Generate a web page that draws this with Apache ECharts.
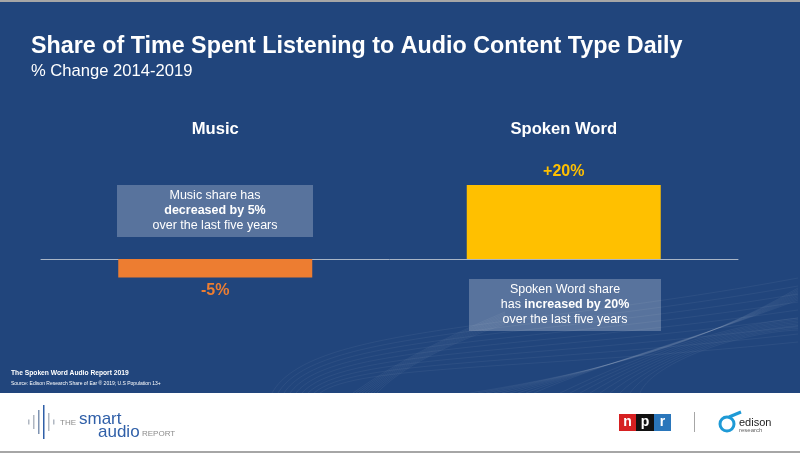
<!DOCTYPE html>
<html>
<head>
<meta charset="utf-8">
<title>Share of Time Spent Listening</title>
<style>
	html,body{margin:0;padding:0;background:#fff;}
	#main{width:800px;height:453px;}
</style>
<script src="https://cdn.jsdelivr.net/npm/echarts@6/dist/echarts.min.js"></script>
</head>
<body>
<div id="main"></div>
<script>
var categories = ['Music', 'Spoken Word'];
var values = [-5, 20];
var valueLabels = ['-5%', '+20%'];
var barColors = ['#ED7D31', '#FFC000'];
var waveBars = [5, 14, 24, 34, 18, 5];

var fontName = '"Liberation Sans", Arial, sans-serif';
var noteStyle = {
	n: {fontFamily: fontName, fontSize: 12.5, fill: '#fff', lineHeight: 15},
	b: {fontFamily: fontName, fontSize: 12.5, fontWeight: 'bold', fill: '#fff', lineHeight: 15}
};

//说明框
function noteBox(x, y, w, h, text){
	return [{
		type: 'rect', z: 3,
		shape: {x: x, y: y, width: w, height: h},
		style: {fill: 'rgba(255,255,255,0.25)'}
	},{
		type: 'text', z: 4, x: x + w / 2, y: y + h / 2,
		style: {text: text, rich: noteStyle, fill: '#fff', align: 'center', verticalAlign: 'middle'}
	}];
}

function label(text, x, y, size, color, weight, align){
	return {
		type: 'text', z: 6, x: x, y: y,
		style: {
			text: text, fontFamily: fontName, fontSize: size, fontWeight: weight || 'normal',
			fill: color, align: align || 'left', verticalAlign: 'middle'
		}
	};
}

function box(x, y, w, h, color, z){
	return {type: 'rect', z: z || 5, shape: {x: x, y: y, width: w, height: h}, style: {fill: color}};
}

function curve(x1, y1, cx1, cy1, cx2, cy2, x2, y2, alpha){
	return {
		type: 'bezierCurve', z: 1,
		shape: {x1: x1, y1: y1, cpx1: cx1, cpy1: cy1, cpx2: cx2, cpy2: cy2, x2: x2, y2: y2},
		style: {stroke: 'rgba(255,255,255,' + alpha + ')', fill: 'none', lineWidth: 1}
	};
}

//背景装饰线
function decoration(){
	var list = [], i;
	for(i = 0; i < 9; i++){
		list.push(curve(272 + i * 6, 393, 310 + i * 6, 325 + i * 5, 520, 330 + i * 5, 798, 278 + i * 8, 0.05));
		list.push(curve(353 + i * 3, 393, 400, 360 + i, 450, 335 + i, 505, 312 + i * 1.5, 0.05));
		list.push(curve(470 + i * 8, 393, 600, 372 - i, 700, 345 - i, 798, 288 + i * 1.5, 0.05));
		list.push(curve(560 + i * 10, 393, 650, 350 + i * 2, 730, 325 + i, 798, 318 + i * 1.5, 0.05));
	}
	return list;
}

//页脚标志
function footer(){
	var list = [box(0, 393, 800, 58, '#fff', 5), box(0, 451, 800, 2, '#A6A6A6', 5), box(0, 0, 800, 2, '#A6A6A6', 5)];
	for(var i = 0; i < waveBars.length; i++){
		list.push(box(28 + i * 5, 422 - waveBars[i] / 2, 1.5, waveBars[i], i == 3 ? '#2F5FA8' : (i == 2 ? '#7F93B2' : '#B0B7C2'), 6));
	}
	list.push(label('THE', 60, 423, 8, '#8C8C8C'));
	list.push(label('smart', 79, 419, 17, '#2F5FA8'));
	list.push(label('audio', 98, 432, 17, '#2F5FA8'));
	list.push(label('REPORT', 142, 434, 8, '#8C8C8C'));
	list.push(box(619, 414, 17, 17, '#D62021', 6));
	list.push(box(636, 414, 18, 17, '#111', 6));
	list.push(box(654, 414, 17, 17, '#2A76BB', 6));
	list.push(label('n', 627.5, 422, 14, '#fff', 'bold', 'center'));
	list.push(label('p', 645, 422, 14, '#fff', 'bold', 'center'));
	list.push(label('r', 662.5, 422, 14, '#fff', 'bold', 'center'));
	list.push(box(694, 412, 1, 20, '#A6A6A6', 6));
	list.push({type: 'circle', z: 6, shape: {cx: 727, cy: 424, r: 7}, style: {fill: 'none', stroke: '#1E9AD6', lineWidth: 3}});
	list.push({type: 'line', z: 6, shape: {x1: 729, y1: 417, x2: 741, y2: 412}, style: {stroke: '#1E9AD6', lineWidth: 3}});
	list.push(label('edison', 739, 423, 11, '#222'));
	list.push(label('research', 739, 430, 6, '#666'));
	return list;
}

var chart = echarts.init(document.getElementById('main'));
var graphics = decoration()
	.concat(noteBox(117, 185, 196, 52, '{n|Music share has}\n{b|decreased by 5%}\n{n|over the last five years}'))
	.concat(noteBox(469, 279, 192, 52, '{n|Spoken Word share}\n{n|has }{b|increased by 20%}\n{n|over the last five years}'))
	.concat(footer());
graphics.push(label('The Spoken Word Audio Report 2019', 11, 373, 6.7, '#fff', 'bold'));
graphics.push(label('Source: Edison Research Share of Ear \u00AE 2019; U.S Population 13+', 11, 383.5, 5, '#fff'));

var barData = [];
for(var i = 0; i < values.length; i++){
	barData.push({
		value: values[i],
		itemStyle: {color: barColors[i]},
		label: {color: barColors[i], formatter: valueLabels[i]}
	});
}

chart.setOption({
	animation: false,
	backgroundColor: '#21457C',
	title: {
		text: 'Share of Time Spent Listening to Audio Content Type Daily',
		subtext: '% Change 2014-2019',
		left: 26,
		top: 30,
		itemGap: 5,
		textStyle: {fontFamily: fontName, fontSize: 23.3, fontWeight: 'bold', color: '#fff'},
		subtextStyle: {fontFamily: fontName, fontSize: 16.6, color: '#fff'}
	},
	grid: {left: 41, width: 697, top: 185, height: 111},
	xAxis: [{
		type: 'category',
		data: categories,
		axisLine: {onZero: true, lineStyle: {color: '#A9B5C6', width: 1}},
		axisTick: {show: false},
		axisLabel: {show: false}
	},{
		type: 'category',
		data: categories,
		position: 'top',
		offset: 47,
		axisLine: {show: false},
		axisTick: {show: false},
		axisLabel: {margin: 0, fontFamily: fontName, fontSize: 16.6, fontWeight: 'bold', color: '#fff'}
	}],
	yAxis: {
		type: 'value',
		min: -10,
		max: 20,
		interval: 10,
		show: false
	},
	series: [{
		type: 'bar',
		xAxisIndex: 0,
		barWidth: 194,
		data: barData,
		label: {
			show: true,
			position: 'outside',
			distance: 5,
			fontFamily: fontName,
			fontSize: 16,
			fontWeight: 'bold'
		}
	}],
	graphic: graphics
});
</script>
</body>
</html>
